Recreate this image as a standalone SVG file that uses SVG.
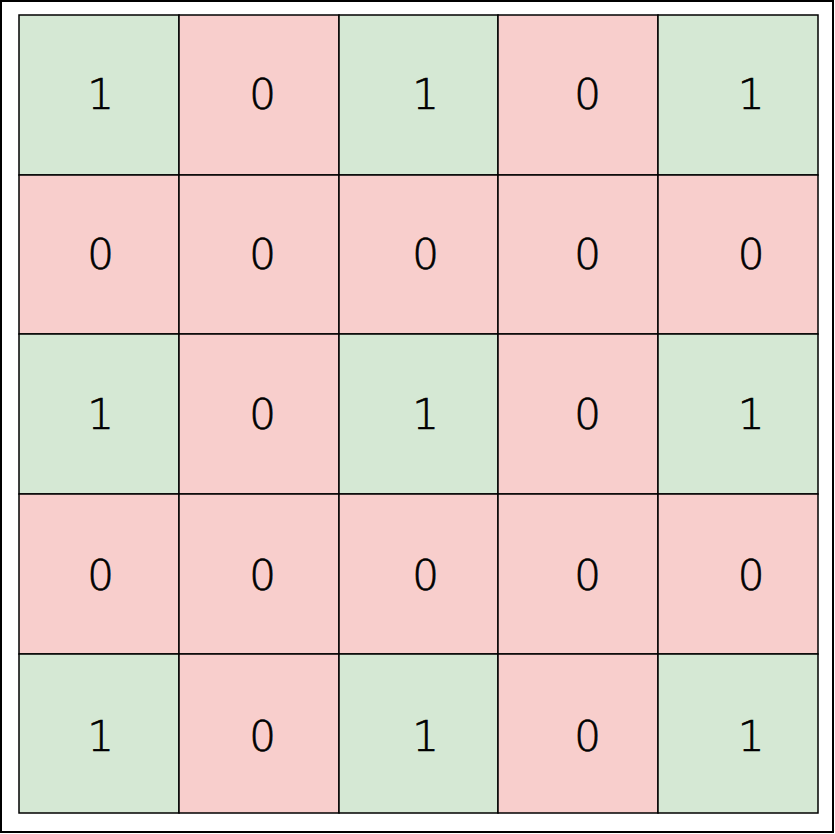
<svg xmlns="http://www.w3.org/2000/svg" width="835" height="834" viewBox="0 0 835 834">
<style>
.g{fill:#d5e8d4;stroke:#000;stroke-width:1.5}
.r{fill:#f8cecc;stroke:#000;stroke-width:1.5}
text{font-family:"DejaVu Sans","Liberation Sans",sans-serif;font-weight:200;font-size:42px;fill:#000;stroke:#000;stroke-width:0.7;text-anchor:middle}
</style>
<rect x="1" y="1" width="832" height="831" fill="#fff" stroke="#000" stroke-width="2"/>
<g id="r0">
<rect class="g" x="19" y="15" width="160" height="160"/><rect class="r" x="179" y="15" width="160" height="160"/><rect class="g" x="339" y="15" width="159" height="160"/><rect class="r" x="498" y="15" width="160" height="160"/><rect class="g" x="658" y="15" width="160" height="160"/>
<text x="100.5" y="108.5">1</text><text x="262.5" y="108.5">0</text><text x="425.5" y="108.5">1</text><text x="587.5" y="108.5">0</text><text x="751" y="108.5">1</text>
</g>
<g id="r1">
<rect class="r" x="19" y="175" width="160" height="159"/><rect class="r" x="179" y="175" width="160" height="159"/><rect class="r" x="339" y="175" width="159" height="159"/><rect class="r" x="498" y="175" width="160" height="159"/><rect class="r" x="658" y="175" width="160" height="159"/>
<text x="100.5" y="269">0</text><text x="262.5" y="269">0</text><text x="425.5" y="269">0</text><text x="587.5" y="269">0</text><text x="751" y="269">0</text>
</g>
<g id="r2">
<rect class="g" x="19" y="334" width="160" height="160"/><rect class="r" x="179" y="334" width="160" height="160"/><rect class="g" x="339" y="334" width="159" height="160"/><rect class="r" x="498" y="334" width="160" height="160"/><rect class="g" x="658" y="334" width="160" height="160"/>
<text x="100.5" y="429">1</text><text x="262.5" y="429">0</text><text x="425.5" y="429">1</text><text x="587.5" y="429">0</text><text x="751" y="429">1</text>
</g>
<g id="r3">
<rect class="r" x="19" y="494" width="160" height="160"/><rect class="r" x="179" y="494" width="160" height="160"/><rect class="r" x="339" y="494" width="159" height="160"/><rect class="r" x="498" y="494" width="160" height="160"/><rect class="r" x="658" y="494" width="160" height="160"/>
<text x="100.5" y="590">0</text><text x="262.5" y="590">0</text><text x="425.5" y="590">0</text><text x="587.5" y="590">0</text><text x="751" y="590">0</text>
</g>
<g id="r4">
<rect class="g" x="19" y="654" width="160" height="159"/><rect class="r" x="179" y="654" width="160" height="159"/><rect class="g" x="339" y="654" width="159" height="159"/><rect class="r" x="498" y="654" width="160" height="159"/><rect class="g" x="658" y="654" width="160" height="159"/>
<text x="100.5" y="751">1</text><text x="262.5" y="751">0</text><text x="425.5" y="751">1</text><text x="587.5" y="751">0</text><text x="751" y="751">1</text>
</g>
</svg>
